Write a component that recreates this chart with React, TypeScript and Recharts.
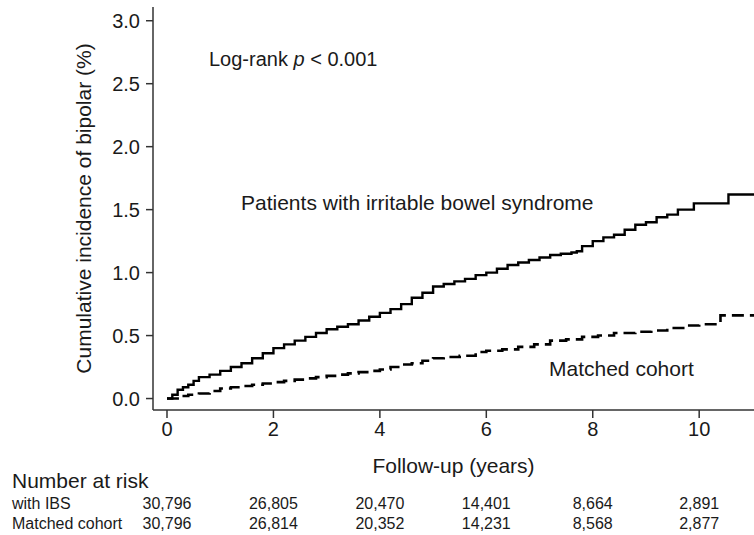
import { LineChart, Line, XAxis, YAxis, Label } from 'recharts'

// cumulative incidence (%), step changes only
const ibsYears = [0, 0.1, 0.2, 0.3, 0.4, 0.5, 0.6, 0.8, 1.0, 1.2, 1.4, 1.6, 1.8, 2.0, 2.2, 2.4, 2.6, 2.8, 3.0, 3.2, 3.4, 3.6, 3.8, 4.0, 4.2, 4.4, 4.6, 4.8, 5.0, 5.2, 5.4, 5.6, 5.8, 6.0, 6.2, 6.4, 6.6, 6.8, 7.0, 7.2, 7.4, 7.6, 7.7, 7.8, 8.0, 8.2, 8.4, 8.6, 8.8, 9.0, 9.2, 9.4, 9.6, 9.9, 10.55, 11.03]
const ibsPct = [0, 0.03, 0.07, 0.09, 0.11, 0.14, 0.17, 0.19, 0.22, 0.25, 0.28, 0.32, 0.36, 0.4, 0.43, 0.46, 0.49, 0.52, 0.55, 0.57, 0.59, 0.62, 0.65, 0.68, 0.71, 0.75, 0.8, 0.84, 0.89, 0.91, 0.93, 0.95, 0.98, 1.0, 1.03, 1.06, 1.08, 1.1, 1.12, 1.14, 1.15, 1.16, 1.17, 1.21, 1.25, 1.28, 1.3, 1.34, 1.38, 1.4, 1.44, 1.46, 1.5, 1.55, 1.62, 1.62]

const cohortYears = [0, 0.2, 0.4, 0.6, 0.8, 1.0, 1.2, 1.4, 1.6, 1.8, 2.0, 2.2, 2.4, 2.6, 2.8, 3.0, 3.2, 3.4, 3.6, 3.8, 4.0, 4.2, 4.4, 4.6, 4.8, 5.0, 5.2, 5.5, 5.8, 6.0, 6.3, 6.6, 6.9, 7.2, 7.5, 7.8, 8.1, 8.4, 8.8, 9.1, 9.4, 9.7, 10.0, 10.4, 11.03]
const cohortPct = [0, 0.02, 0.03, 0.04, 0.06, 0.08, 0.09, 0.1, 0.11, 0.12, 0.13, 0.14, 0.15, 0.16, 0.17, 0.18, 0.19, 0.2, 0.21, 0.22, 0.23, 0.25, 0.27, 0.28, 0.3, 0.32, 0.33, 0.34, 0.37, 0.38, 0.39, 0.41, 0.43, 0.46, 0.47, 0.49, 0.5, 0.52, 0.53, 0.54, 0.56, 0.58, 0.59, 0.66, 0.66]

const xTicks = [0, 2, 4, 6, 8, 10]
const yTicks = [0, 0.5, 1, 1.5, 2, 2.5, 3]
const riskIbs = ['30,796', '26,805', '20,470', '14,401', '8,664', '2,891']
const riskCohort = ['30,796', '26,814', '20,352', '14,231', '8,568', '2,877']

const ibsData = ibsYears.map((t, i) => ({ t, v: ibsPct[i] }))
const cohortData = cohortYears.map((t, i) => ({ t, v: cohortPct[i] }))

const font = '"Liberation Sans", Arial, Helvetica, sans-serif'
const ink = '#1a1a1a'
const axisStroke = { stroke: '#333', strokeWidth: 1.5 }
const xDomain = [-0.263, 11.03]

export default function App() {
  return (
    <div style={{ position: 'absolute', left: 0, top: 0, width: 754, height: 535, background: '#fff', fontFamily: font }}>
      <LineChart width={754} height={535} margin={{ top: 7, right: 0, left: 0, bottom: 5 }}>
        <XAxis
          xAxisId="main"
          type="number"
          dataKey="t"
          domain={xDomain}
          allowDataOverflow
          ticks={xTicks}
          height={80}
          tickSize={8}
          tickMargin={4}
          axisLine={axisStroke}
          tickLine={axisStroke}
          tick={{ fontSize: 20, fill: ink, fontFamily: font }}
        >
          <Label value="Follow-up (years)" position="insideBottom" offset={17} style={{ fontSize: 21, fill: ink, fontFamily: font }} />
        </XAxis>
        <XAxis
          xAxisId="risk1"
          type="number"
          dataKey="t"
          domain={xDomain}
          allowDataOverflow
          ticks={xTicks}
          height={20}
          axisLine={false}
          tickLine={false}
          tickFormatter={(v) => riskIbs[xTicks.indexOf(v)]}
          tick={{ fontSize: 16, fill: ink, fontFamily: font }}
        />
        <XAxis
          xAxisId="risk2"
          type="number"
          dataKey="t"
          domain={xDomain}
          allowDataOverflow
          ticks={xTicks}
          height={20}
          axisLine={false}
          tickLine={false}
          tickFormatter={(v) => riskCohort[xTicks.indexOf(v)]}
          tick={{ fontSize: 16, fill: ink, fontFamily: font }}
        />
        <YAxis
          type="number"
          domain={[-0.091, 3.109]}
          allowDataOverflow
          ticks={yTicks}
          width={153}
          tickSize={7}
          tickMargin={6}
          tickFormatter={(v) => Number(v).toFixed(1)}
          axisLine={axisStroke}
          tickLine={axisStroke}
          tick={{ fontSize: 20, fill: ink, fontFamily: font }}
        >
          <Label
            value="Cumulative incidence of bipolar (%)"
            angle={-90}
            position="insideLeft"
            offset={84}
            style={{ fontSize: 21, fill: ink, fontFamily: font, textAnchor: 'middle' }}
          />
        </YAxis>
        <Line
          xAxisId="main"
          data={ibsData}
          dataKey="v"
          type="stepAfter"
          stroke="#000"
          strokeWidth={2.4}
          dot={false}
          isAnimationActive={false}
        />
        <Line
          xAxisId="main"
          data={cohortData}
          dataKey="v"
          type="stepAfter"
          stroke="#000"
          strokeWidth={2.6}
          strokeDasharray="12 6"
          dot={false}
          isAnimationActive={false}
        />
        {/* invisible series so the two risk-table axes get a data domain */}
        <Line xAxisId="risk1" data={ibsData} dataKey="v" stroke="none" dot={false} activeDot={false} isAnimationActive={false} />
        <Line xAxisId="risk2" data={cohortData} dataKey="v" stroke="none" dot={false} activeDot={false} isAnimationActive={false} />
      </LineChart>
      <svg width={754} height={535} style={{ position: 'absolute', left: 0, top: 0, pointerEvents: 'none' }}>
        <g fontFamily={font} fill={ink}>
          <text x={209} y={66} fontSize={20}>
            Log-rank <tspan fontStyle="italic">p</tspan> {'< 0.001'}
          </text>
          <text x={241} y={210} fontSize={21}>Patients with irritable bowel syndrome</text>
          <text x={549} y={376} fontSize={21}>Matched cohort</text>
          <text x={12} y={488} fontSize={21}>Number at risk</text>
          <text x={12} y={509} fontSize={16}>with IBS</text>
          <text x={12} y={529} fontSize={16}>Matched cohort</text>
        </g>
      </svg>
    </div>
  )
}
